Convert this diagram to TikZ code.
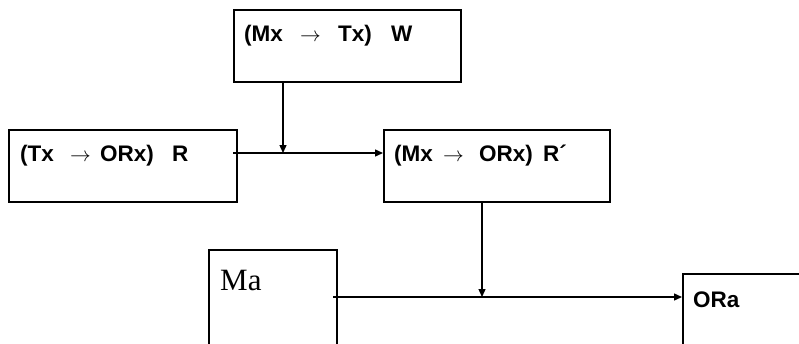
\documentclass[tikz,border=0pt]{standalone}
\usepackage{fontspec}
\setmainfont{Liberation Sans}
\newfontfamily\serifA{Liberation Serif}
\usetikzlibrary{arrows.meta}
\begin{document}
\begin{tikzpicture}[x=1pt,y=-1pt,
  box/.style={draw,line width=1.5pt,rectangle,inner sep=0pt,anchor=north west},
  lbl/.style={anchor=base west,inner sep=0pt,font=\fontsize{22.5}{26}\selectfont\bfseries},
  conn/.style={line width=1.4pt,-{Triangle[length=8pt,width=7pt]}}]
\clip (0,0) rectangle (799,343);
\fill[white] (0,0) rectangle (799,343);
% boxes
\node[box,minimum width=227pt,minimum height=72pt] (W) at (233,9) {};
\node[box,minimum width=228pt,minimum height=72pt] (R) at (8,129) {};
\node[box,minimum width=226pt,minimum height=72pt] (Rp) at (383,129) {};
\node[box,minimum width=128pt,minimum height=140pt] (Ma) at (208,249) {};
\node[box,minimum width=160pt,minimum height=120pt] (ORa) at (682,273) {};
% labels
\node[lbl] (tW) at (244,41) {\makebox[56pt][l]{(Mx}\makebox[38pt][l]{$\rightarrow$}\makebox[53pt][l]{Tx)}W};
\node[lbl] (tR) at (20,161) {\makebox[50pt][l]{(Tx}\makebox[30pt][l]{$\rightarrow$}\makebox[72pt][l]{ORx)}R};
\node[lbl] (tRp) at (394,161) {\makebox[49pt][l]{(Mx}\makebox[36pt][l]{$\rightarrow$}\makebox[64pt][l]{ORx)}R´};
\node[anchor=base west,inner sep=0pt,font=\serifA\fontsize{31}{36}\selectfont] (tMa) at (220,290) {Ma};
\node[lbl] (tORa) at (693,307) {ORa};
% connectors
\coordinate (j1) at (283,153);
\coordinate (j2) at (482,297);
\coordinate (s1) at (233,153);
\coordinate (s2) at (333,297);
\draw[conn] (W.south -| j1) -- (j1);
\draw[conn] (s1) -- (s1 -| Rp.west);
\draw[conn] (Rp.south -| j2) -- (j2);
\draw[conn] (s2) -- (s2 -| ORa.west);
\end{tikzpicture}
\end{document}
